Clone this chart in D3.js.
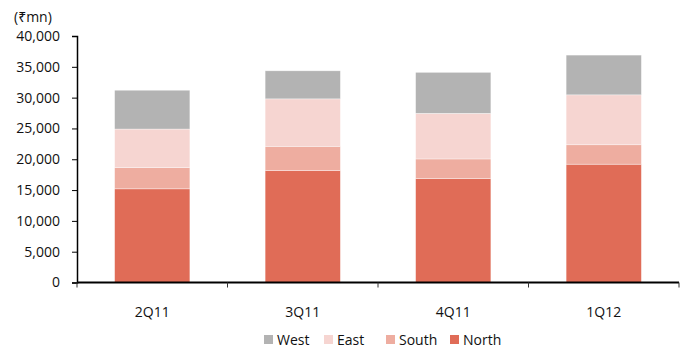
<!DOCTYPE html>
<html>
<head>
<meta charset="utf-8">
<script src="https://cdn.jsdelivr.net/npm/d3@7"></script>
<style>
  body { margin: 0; background: #fff; }
  svg text { font-family: "Open Sans", "Noto Sans", "DejaVu Sans", sans-serif; fill: #111; }
</style>
</head>
<body>
<div id="chart"></div>
<script>
// Quarterly sales by region (Rs mn)
var quarters = ["2Q11", "3Q11", "4Q11", "1Q12"];
var north = [15200, 18150, 16850, 19200];
var south = [3450, 3950, 3200, 3150];
var east  = [6250, 7700, 7400, 8100];
var west  = [6300, 4550, 6650, 6450];
var yTicks = [0, 5000, 10000, 15000, 20000, 25000, 30000, 35000, 40000];

var regions = ["North", "South", "East", "West"];
var series = { North: north, South: south, East: east, West: west };
var colors = { North: "#e06c57", South: "#eeada0", East: "#f6d5d1", West: "#b3b3b3" };
var legendOrder = ["West", "East", "South", "North"];

var width = 688, height = 350;
var margin = {top: 36, right: 9, bottom: 67.5, left: 77};
var w = width - margin.left - margin.right,
    h = height - margin.top - margin.bottom;

var svg = d3.select("#chart").append("svg")
    .attr("width", width)
    .attr("height", height);

var g = svg.append("g")
    .attr("transform", "translate(" + margin.left + "," + margin.top + ")");

var x = d3.scaleBand().domain(quarters).range([0, w]).paddingInner(0.5).paddingOuter(0.25);
var y = d3.scaleLinear().domain([0, 40000]).range([h, 0]);

// build rows for the stack
var rows = quarters.map(function(q, i) {
    var r = {quarter: q};
    regions.forEach(function(k) { r[k] = series[k][i]; });
    return r;
});
var stacked = d3.stack().keys(regions)(rows);

g.selectAll("g.layer")
    .data(stacked)
    .enter().append("g")
        .attr("class", "layer")
        .attr("fill", function(d) { return colors[d.key]; })
    .selectAll("rect")
    .data(function(d) { return d; })
    .enter().append("rect")
        .attr("x", function(d) { return x(d.data.quarter); })
        .attr("width", x.bandwidth())
        .attr("y", function(d) { return y(d[1]); })
        .attr("height", function(d) { return y(d[0]) - y(d[1]); })
        .attr("stroke", "#fff")
        .attr("stroke-opacity", 0.6)
        .attr("stroke-width", 0.6);

// Y axis
var yAxis = d3.axisLeft(y).tickValues(yTicks).tickSize(5).tickPadding(12)
    .tickFormat(d3.format(","));
var ya = g.append("g").call(yAxis);
ya.select(".domain").attr("stroke", "#000").attr("stroke-width", 1.5);
ya.selectAll(".tick line").attr("stroke", "#000");
ya.selectAll("text").style("font-size", "14px").attr("fill", "#111");

// X axis: ticks on category boundaries
var step = x.step();
var bounds = quarters.map(function(q, i) { return i * step; }).concat([w]);
var xa = g.append("g").attr("transform", "translate(0," + h + ")");
xa.append("line")
    .attr("x1", 0).attr("x2", w)
    .attr("stroke", "#000").attr("stroke-width", 2);
xa.selectAll("line.tk")
    .data(bounds)
    .enter().append("line")
        .attr("class", "tk")
        .attr("x1", function(d) { return d; })
        .attr("x2", function(d) { return d; })
        .attr("y1", 0).attr("y2", 5)
        .attr("stroke", "#333").attr("stroke-width", 1);
xa.selectAll("text")
    .data(quarters)
    .enter().append("text")
        .attr("x", function(d) { return x(d) + x.bandwidth() / 2; })
        .attr("y", 34)
        .attr("text-anchor", "middle")
        .style("font-size", "14px")
        .text(function(d) { return d; });

// unit label
svg.append("text")
    .attr("x", 14).attr("y", 22)
    .style("font-size", "14px")
    .text("(₹mn)");

// legend
var legendX = [264, 324, 386, 450];
var lg = svg.append("g").attr("transform", "translate(0,335)");
legendOrder.forEach(function(k, i) {
    lg.append("rect")
        .attr("x", legendX[i]).attr("y", 0)
        .attr("width", 9).attr("height", 9)
        .attr("fill", colors[k]);
    lg.append("text")
        .attr("x", legendX[i] + 13).attr("y", 10)
        .style("font-size", "14px")
        .text(k);
});
</script>
</body>
</html>
